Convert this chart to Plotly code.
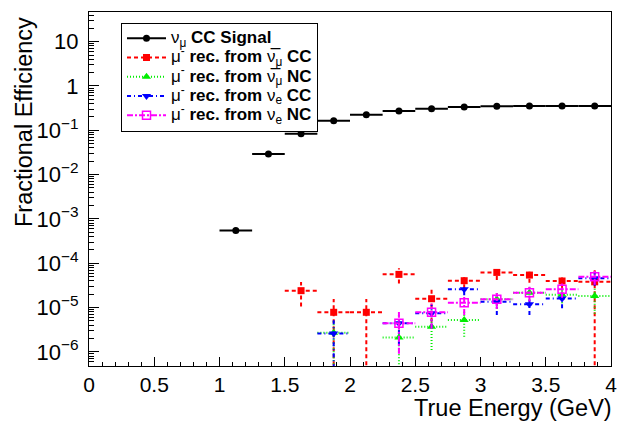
import plotly.graph_objects as go

# ---------------- data ----------------
bin_half_width = 0.125

signal_x = [1.125, 1.375, 1.625, 1.875, 2.125, 2.375, 2.625, 2.875, 3.125, 3.375, 3.625, 3.875]
signal_y = [5.5e-4, 0.0292, 0.0838, 0.165, 0.225, 0.273, 0.307, 0.336, 0.348, 0.354, 0.354, 0.354]
signal_err = [0, 0, 0, 0, 0, 0, 0, 0, 0, 0, 0, 0]

numubar_cc_x = [1.625, 1.875, 2.125, 2.375, 2.625, 2.875, 3.125, 3.375, 3.625, 3.875]
numubar_cc_y = [2.4e-5, 7.8e-6, 7.8e-6, 5.6e-5, 1.58e-5, 4.03e-5, 6.2e-5, 5.4e-5, 3.97e-5, 3.8e-5]
numubar_cc_err = [1.35e-5, 7.8e-6, 7.8e-6, 2.1e-5, 1.1e-5, 1.3e-5, 2.0e-5, 1.8e-5, 1.3e-5, 3.8e-5]

numubar_nc_x = [1.875, 2.375, 2.625, 2.875, 3.125, 3.375, 3.625, 3.875]
numubar_nc_y = [2.7e-6, 2.1e-6, 3.7e-6, 5.2e-6, 1.53e-5, 2.16e-5, 1.95e-5, 1.82e-5]
numubar_nc_err = [2.7e-6, 2.1e-6, 2.6e-6, 3.0e-6, 6e-6, 7e-6, 7e-6, 1.1e-5]

nue_cc_x = [1.875, 2.375, 2.625, 2.875, 3.125, 3.375, 3.625, 3.875]
nue_cc_y = [2.6e-6, 4.4e-6, 7.4e-6, 2.6e-5, 1.35e-5, 1.18e-5, 1.6e-5, 4.6e-5]
nue_cc_err = [2.6e-6, 3e-6, 4e-6, 7e-6, 6.7e-6, 5e-6, 6.4e-6, 1.5e-5]

nue_nc_x = [2.375, 2.625, 2.875, 3.125, 3.375, 3.625, 3.875]
nue_nc_y = [4.4e-6, 7.8e-6, 1.28e-5, 1.53e-5, 2.16e-5, 2.57e-5, 4.95e-5]
nue_nc_err = [3.5e-6, 4.5e-6, 6e-6, 6e-6, 8e-6, 9e-6, 1.7e-5]

legend_labels = [
    "ν<sub>μ</sub><b> CC Signal</b>",
    "μ<sup>-</sup><b> rec. from </b>ν̅<sub>μ</sub><b> CC</b>",
    "μ<sup>-</sup><b> rec. from </b>ν̅<sub>μ</sub><b> NC</b>",
    "μ<sup>-</sup><b> rec. from </b>ν<sub>e</sub><b> CC</b>",
    "μ<sup>-</sup><b> rec. from </b>ν<sub>e</sub><b> NC</b>",
]

x_title = "True Energy (GeV)"
y_title = "Fractional Efficiency"

# ---------------- axes ----------------
y_log_range = [-6.32, 1.67]
x_range = [0, 4]
y_floor = 10 ** y_log_range[0] * 0.5


def error_segments(xs, ys, errs):
    sx, sy = [], []
    for x, y, e in zip(xs, ys, errs):
        sx += [x - bin_half_width, x + bin_half_width, None]
        sy += [y, y, None]
        if e:
            lo = y - e
            if lo <= y_floor:
                lo = y_floor
            sx += [x, x, None]
            sy += [lo, y + e, None]
    return sx, sy


series = [
    dict(x=signal_x, y=signal_y, e=signal_err, color="black", dash="solid",
         symbol="circle", size=7, lw=2, label=legend_labels[0]),
    dict(x=numubar_cc_x, y=numubar_cc_y, e=numubar_cc_err, color="#ff0000", dash="4px,3px",
         symbol="square", size=7, lw=2, label=legend_labels[1]),
    dict(x=numubar_nc_x, y=numubar_nc_y, e=numubar_nc_err, color="#00ee00", dash="1px,2px",
         symbol="triangle-up", size=8, lw=2, label=legend_labels[2]),
    dict(x=nue_cc_x, y=nue_cc_y, e=nue_cc_err, color="#0000ff", dash="4px,3px,1px,3px",
         symbol="triangle-down", size=8, lw=2, label=legend_labels[3]),
    dict(x=nue_nc_x, y=nue_nc_y, e=nue_nc_err, color="#ff00ff", dash="6px,2px,2px,2px",
         symbol="square-open", size=8, lw=2, label=legend_labels[4]),
]

fig = go.Figure()

for s in series:
    ex, ey = error_segments(s["x"], s["y"], s["e"])
    fig.add_trace(go.Scatter(x=ex, y=ey, mode="lines", showlegend=False, hoverinfo="skip",
                             line=dict(color=s["color"], width=s["lw"], dash=s["dash"])))
    fig.add_trace(go.Scatter(x=s["x"], y=s["y"], mode="markers", showlegend=False,
                             marker=dict(color=s["color"], symbol=s["symbol"], size=s["size"],
                                         line=dict(color=s["color"], width=1.5 if "open" in s["symbol"] else 0))))

# legend proxies (text rendered a bit larger than the row spacing font)
for s in series:
    fig.add_trace(go.Scatter(x=[None], y=[None], mode="lines+markers",
                             name='<span style="font-size:17px">' + s["label"] + "</span>",
                             line=dict(color=s["color"], width=s["lw"], dash=s["dash"]),
                             marker=dict(color=s["color"], symbol=s["symbol"], size=s["size"],
                                         line=dict(color=s["color"], width=1.5 if "open" in s["symbol"] else 0))))

fig.update_layout(
    width=626, height=422,
    margin=dict(l=89, r=15, t=12, b=56, autoexpand=False),
    paper_bgcolor="white", plot_bgcolor="white",
    font=dict(family="Liberation Sans, Arial, sans-serif", color="black"),
    showlegend=True,
    legend=dict(x=0.0613, y=0.970, xanchor="left", yanchor="top",
                bgcolor="white", bordercolor="black", borderwidth=1,
                font=dict(size=12.5, family="Liberation Sans, Arial, sans-serif"),
                tracegroupgap=0, itemwidth=39),
    xaxis=dict(range=x_range, showgrid=False, zeroline=False, showline=True, mirror=True,
               linecolor="black", linewidth=1, ticks="inside", ticklen=9, tickcolor="black",
               dtick=0.5, tick0=0, tickfont=dict(size=21), ticklabelstandoff=0,
               minor=dict(ticks="inside", ticklen=4.5, dtick=0.1, tickcolor="black", showgrid=False)),
    yaxis=dict(type="log", range=y_log_range, showgrid=False, zeroline=False, showline=True, mirror=True,
               linecolor="black", linewidth=1, ticks="inside", ticklen=10, tickcolor="black",
               dtick=1, exponentformat="power", tickfont=dict(size=17.6), ticklabelstandoff=6,
               minor=dict(ticks="inside", ticklen=5, dtick="D1", tickcolor="black", showgrid=False)),
    annotations=[
        dict(text=x_title, xref="paper", yref="paper", x=1.006, y=-0.118, xanchor="right", yanchor="middle",
             showarrow=False, font=dict(size=23.5)),
        dict(text=y_title, xref="paper", yref="paper", x=-0.1245, y=0.9915, xanchor="center", yanchor="top",
             textangle=-90, showarrow=False, font=dict(size=23.5)),
    ],
)

fig.write_html("out.html", config={"displayModeBar": False},
               post_script="document.body.style.margin='0';")
